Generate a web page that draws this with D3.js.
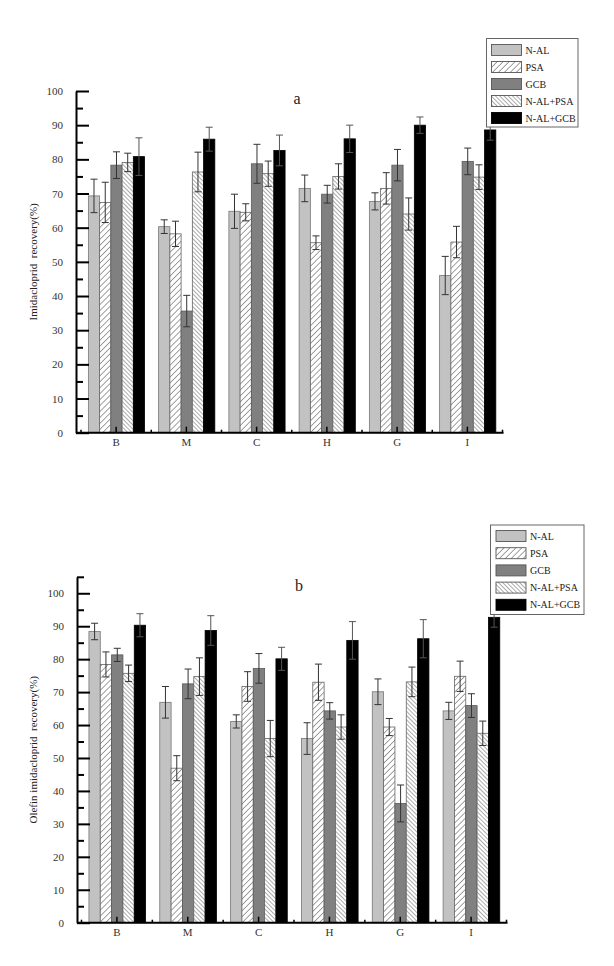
<!DOCTYPE html>
<html><head><meta charset="utf-8">
<script src="https://cdn.jsdelivr.net/npm/d3@7"></script>
<style>body{margin:0;background:#fff}svg{display:block}text{font-family:"Liberation Serif","Times New Roman",serif}</style>
</head><body><svg id="c" width="614" height="966"></svg>
<script>
const categories = ["B","M","C","H","G","I"];
const seriesNames = ["N-AL","PSA","GCB","N-AL+PSA","N-AL+GCB"];

// Chart a: Imidacloprid recovery (%)
const nalA    = [69.3, 60.3, 64.8, 71.5, 67.7, 46.0];
const psaA    = [67.4, 58.2, 64.5, 55.6, 71.5, 55.8];
const gcbA    = [78.3, 35.6, 78.7, 69.8, 78.3, 79.4];
const nalPsaA = [79.1, 76.3, 75.8, 75.0, 64.0, 74.8];
const nalGcbA = [80.8, 85.9, 82.6, 86.0, 90.0, 88.6];
const nalAErr    = [4.9, 2.0, 5.0, 3.9, 2.5, 5.6];
const psaAErr    = [5.9, 3.7, 2.5, 2.0, 4.6, 4.6];
const gcbAErr    = [3.9, 4.6, 5.7, 2.6, 4.6, 3.9];
const nalPsaAErr = [2.7, 5.8, 3.7, 3.7, 4.7, 3.6];
const nalGcbAErr = [5.5, 3.5, 4.5, 4.0, 2.4, 3.0];

// Chart b: Olefin imidacloprid recovery (%)
const nalB    = [88.4, 66.9, 61.1, 55.9, 70.1, 64.3];
const psaB    = [78.4, 46.9, 71.7, 73.0, 59.4, 74.8];
const gcbB    = [81.3, 72.5, 77.2, 64.3, 36.2, 65.9];
const nalPsaB = [75.7, 74.7, 55.9, 59.4, 73.1, 57.5];
const nalGcbB = [90.3, 88.7, 80.1, 85.7, 86.2, 92.7];
const nalBErr    = [2.5, 4.8, 2.0, 4.8, 3.9, 2.6];
const psaBErr    = [3.8, 3.8, 4.5, 5.5, 2.6, 4.6];
const gcbBErr    = [2.0, 4.5, 4.5, 2.5, 5.6, 3.6];
const nalPsaBErr = [2.5, 5.7, 5.5, 3.7, 4.5, 3.7];
const nalGcbBErr = [3.5, 4.5, 3.5, 5.7, 5.8, 3.0];

const majorTicks = [0,10,20,30,40,50,60,70,80,90,100];

const svg = d3.select("#c");
const defs = svg.append("defs");
function hatch(id, angle, spacing, color, w){
  const p = defs.append("pattern").attr("id", id).attr("patternUnits","userSpaceOnUse")
    .attr("width", spacing).attr("height", spacing).attr("patternTransform", `rotate(${angle})`);
  p.append("rect").attr("width", spacing).attr("height", spacing).attr("fill","#fff");
  p.append("line").attr("x1",0).attr("y1",0).attr("x2",0).attr("y2",spacing)
    .attr("stroke", color).attr("stroke-width", w);
}
hatch("fwd", 45, 4.2, "#444", 1.0);
hatch("bwd", -45, 3.0, "#444", 0.9);

const styles = [
  {fill:"#c2c2c2", stroke:"#777"},
  {fill:"url(#fwd)", stroke:"#666"},
  {fill:"#808080", stroke:"#5a5a5a"},
  {fill:"url(#bwd)", stroke:"#666"},
  {fill:"#000", stroke:"#000"}
];

function drawChart(cfg){
  const g = svg.append("g");
  const y = d3.scaleLinear().domain([0, cfg.yMax]).range([cfg.y0, cfg.yTop]);
  const x0 = d3.scaleBand().domain(categories).range([cfg.xStart, cfg.xEnd]).padding(0);
  const bw = x0.bandwidth();
  const x1 = d3.scaleBand().domain(seriesNames).range([bw*0.105, bw*0.905]).padding(0);

  seriesNames.forEach((s, si) => {
    const vals = cfg.values[si], errs = cfg.errors[si];
    const data = categories.map((c, i) => ({c, v: vals[i], e: errs[i]}));
    g.append("g").selectAll("rect").data(data).join("rect")
      .attr("x", d => x0(d.c) + x1(s))
      .attr("y", d => y(d.v))
      .attr("width", x1.bandwidth())
      .attr("height", d => y(0) - y(d.v))
      .attr("fill", styles[si].fill)
      .attr("stroke", styles[si].stroke)
      .attr("stroke-width", 0.8);
    const eg = g.append("g").attr("stroke", si === 4 ? "#555" : "#333").attr("stroke-width", 1);
    data.forEach(d => {
      const cx = x0(d.c) + x1(s) + x1.bandwidth()/2;
      eg.append("line").attr("x1", cx).attr("x2", cx).attr("y1", y(d.v + d.e)).attr("y2", y(d.v - d.e));
      eg.append("line").attr("x1", cx-3.5).attr("x2", cx+3.5).attr("y1", y(d.v + d.e)).attr("y2", y(d.v + d.e));
      eg.append("line").attr("x1", cx-3.5).attr("x2", cx+3.5).attr("y1", y(d.v - d.e)).attr("y2", y(d.v - d.e));
    });
  });

  const yAx = g.append("g").attr("transform", `translate(${cfg.axisX},0)`)
    .call(d3.axisLeft(y).tickValues(majorTicks).tickSize(-13).tickSizeOuter(0).tickPadding(13).tickFormat(d3.format("d")));
  yAx.select(".domain").attr("stroke","#000").attr("stroke-width",2);
  yAx.selectAll(".tick line").attr("stroke","#000").attr("stroke-width",2);
  yAx.selectAll(".tick text").attr("font-size", 11).attr("fill","#333").attr("font-family","Liberation Serif");
  const minor = d3.range(5, cfg.yMax + 1, 10);
  const yMin = g.append("g").attr("transform", `translate(${cfg.axisX},0)`)
    .call(d3.axisLeft(y).tickValues(minor).tickSize(-7).tickSizeOuter(0).tickFormat(""));
  yMin.select(".domain").remove();
  yMin.selectAll(".tick line").attr("stroke","#000").attr("stroke-width",2);

  g.append("line").attr("x1", cfg.axisX).attr("x2", cfg.xEnd + 1).attr("y1", y(0)).attr("y2", y(0))
    .attr("stroke","#000").attr("stroke-width",2);
  const xAx = g.append("g").attr("transform", `translate(0,${y(0)})`)
    .call(d3.axisBottom(x0).tickSize(-6).tickSizeOuter(0).tickPadding(6));
  xAx.select(".domain").remove();
  xAx.selectAll(".tick line").attr("stroke","#000").attr("stroke-width",1.5);
  xAx.selectAll(".tick text").attr("font-size", 11).attr("fill","#333").attr("font-family","Liberation Serif");
  const seps = categories.map(c => x0(c)).concat([x0.range()[1]]);
  g.append("g").selectAll("line").data(seps).join("line")
    .attr("x1", d => d).attr("x2", d => d).attr("y1", y(0)).attr("y2", y(0) - 3)
    .attr("stroke","#000").attr("stroke-width",1.5);

  g.append("text").attr("transform", `translate(${cfg.labelX},${(y(0)+cfg.yTop)/2}) rotate(-90)`)
    .attr("text-anchor","middle").attr("font-size", 11).attr("fill","#222")
    .style("white-space","pre").text(cfg.yLabel);

  g.append("text").attr("x", cfg.letterX).attr("y", cfg.letterY).attr("text-anchor","middle")
    .attr("font-size", 16).attr("fill","#222").text(cfg.letter);

  const L = cfg.legend;
  const lg = g.append("g");
  lg.append("rect").attr("x", L.x).attr("y", L.y).attr("width", L.w).attr("height", L.h)
    .attr("fill","#fff").attr("stroke","#666").attr("stroke-width",1);
  seriesNames.forEach((s, si) => {
    const cy = L.firstY + si * L.step;
    lg.append("rect").attr("x", L.sx).attr("y", cy - 5.5).attr("width", 30).attr("height", 11)
      .attr("fill", styles[si].fill).attr("stroke", si === 4 ? "#000" : "#555").attr("stroke-width", 0.9);
    lg.append("text").attr("x", L.sx + 34).attr("y", cy + 3.5).attr("font-size", 10).attr("fill","#222").text(s);
  });
}

drawChart({
  yMax: 100, y0: 432.7, yTop: 91, xStart: 81, xEnd: 502.5, axisX: 76,
  values: [nalA, psaA, gcbA, nalPsaA, nalGcbA],
  errors: [nalAErr, psaAErr, gcbAErr, nalPsaAErr, nalGcbAErr],
  yLabel: "Imidacloprid  recovery(%)", labelX: 37,
  letter: "a", letterX: 297, letterY: 104,
  legend: {x: 486.5, y: 38.5, w: 91.5, h: 88.5, sx: 491.5, firstY: 50, step: 17}
});

drawChart({
  yMax: 105, y0: 922.7, yTop: 576.8, xStart: 81.5, xEnd: 506.5, axisX: 77,
  values: [nalB, psaB, gcbB, nalPsaB, nalGcbB],
  errors: [nalBErr, psaBErr, gcbBErr, nalPsaBErr, nalGcbBErr],
  yLabel: "Olefin imidacloprid  recovery(%)", labelX: 37,
  letter: "b", letterX: 299, letterY: 591,
  legend: {x: 490.5, y: 525, w: 93.5, h: 89.5, sx: 496, firstY: 536, step: 17.2}
});
</script></body></html>
